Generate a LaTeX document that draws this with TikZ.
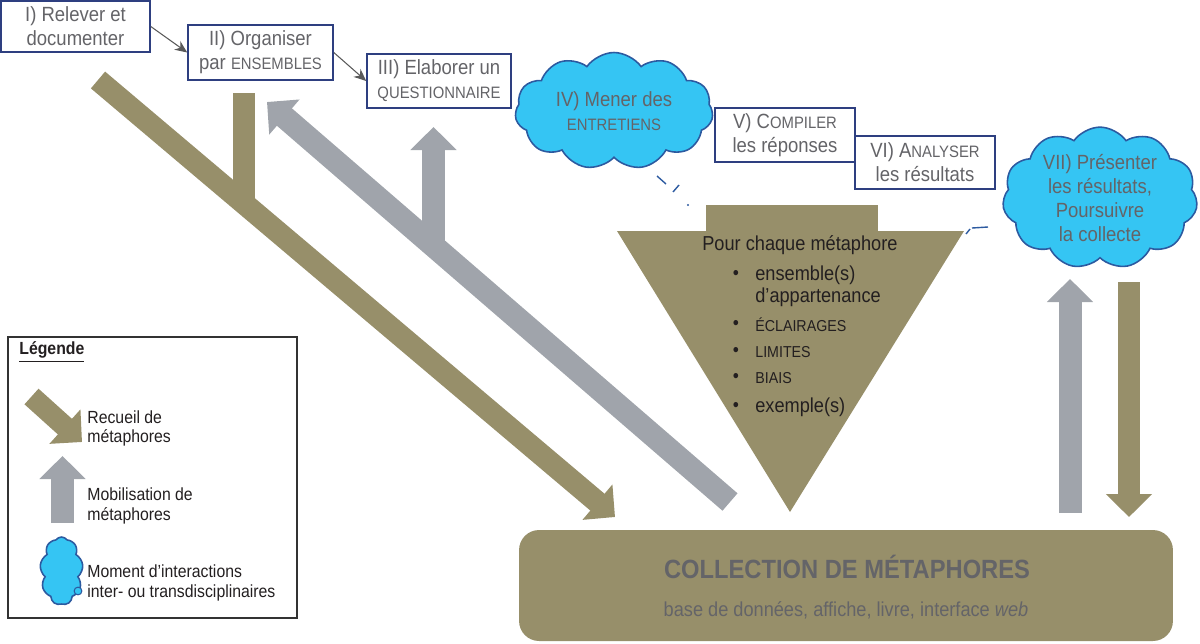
\documentclass[tikz,border=0pt]{standalone}
\usepackage{fontspec}
\setmainfont[FakeStretch=0.9]{Liberation Sans}
\usetikzlibrary{arrows.meta,shapes.symbols}
\definecolor{metaolive}{RGB}{151,143,106}
\definecolor{metagray}{RGB}{160,164,171}
\definecolor{cloudblue}{RGB}{53,197,243}
\definecolor{cloudedge}{RGB}{44,90,160}
\definecolor{boxedge}{RGB}{46,63,128}
\definecolor{labelgray}{RGB}{100,100,104}
\definecolor{inkdark}{RGB}{35,31,32}
\newcommand{\petit}[1]{{\fontsize{9.4}{11}\selectfont #1}}

\begin{document}
\begin{tikzpicture}[x=0.02cm,y=-0.02cm,
		stepbox/.style={draw=boxedge,line width=0.9pt,fill=white,align=center,text=labelgray,inner sep=0pt,font=\fontsize{11.7}{13.6}\selectfont},
		momentcloud/.style={cloud,cloud puffs=11,cloud puff arc=110,cloud ignores aspect,draw=cloudedge,line width=0.9pt,fill=cloudblue,align=center,text=labelgray,inner sep=0pt,font=\fontsize{11.7}{13.6}\selectfont},
		flow/.style={draw=black!65,line width=0.6pt,-{Stealth[length=7pt,width=6pt]}},
		recueil/.style={draw=metaolive,line width=0.44cm,-{Triangle[length=0.46cm,width=0.9cm]}},
		mobilisation/.style={draw=metagray,line width=0.46cm,-{Triangle[length=0.46cm,width=0.9cm]}},
		funneltext/.style={anchor=west,text=inkdark,inner sep=0pt,font=\fontsize{11.5}{13.5}\selectfont},
		funnelcap/.style={anchor=west,text=inkdark,inner sep=0pt,font=\fontsize{9}{11}\selectfont},
		legendtext/.style={anchor=west,align=left,text=inkdark,inner sep=0pt,font=\fontsize{10}{11.3}\selectfont}
	]
	\useasboundingbox (0,0) rectangle (1200,643);

	% big arrows
	\coordinate (rtail) at (98,80);
	\coordinate (rtip) at (615,517);
	\coordinate (rbranch) at (244,93);
	\coordinate (rjoin) at (244,204);
	\coordinate (mtail) at (730,502);
	\coordinate (mtip) at (267,102);
	\coordinate (mjoin) at (433.5,246);
	\coordinate (mbranch) at (433.5,127);
	\coordinate (vup0) at (1070,513);
	\coordinate (vup1) at (1070,279);
	\coordinate (vdown0) at (1129,282);
	\coordinate (vdown1) at (1129,517);
	\draw[recueil] (rtail) -- (rtip);
	\draw[recueil,-] (rbranch) -- (rjoin);
	\draw[mobilisation] (mtail) -- (mtip);
	\draw[mobilisation] (mjoin) -- (mbranch);
	\draw[mobilisation] (vup0) -- (vup1);
	\draw[recueil] (vdown0) -- (vdown1);

	% steps
	\node[stepbox,minimum width=2.98cm,minimum height=1.02cm] (relever) at (75.5,26.5) {I) Relever et\\documenter};
	\node[stepbox,minimum width=2.9cm,minimum height=1.1cm] (organiser) at (260.5,52.5) {II) Organiser\\par \petit{ENSEMBLES}};
	\node[stepbox,minimum width=2.88cm,minimum height=1.08cm] (elaborer) at (439,81) {III) Elaborer un\\\petit{QUESTIONNAIRE}};
	\node[momentcloud,minimum width=3.96cm,minimum height=2.34cm] (entretiens) at (614,111) {IV) Mener des\\\petit{ENTRETIENS}};
	\node[stepbox,minimum width=2.8cm,minimum height=1.08cm] (compiler) at (785,135) {V) C\petit{OMPILER}\\les réponses};
	\node[stepbox,minimum width=2.8cm,minimum height=1.06cm] (analyser) at (925,162.5) {VI) A\petit{NALYSER}\\les résultats};
	\node[momentcloud,minimum width=3.9cm,minimum height=2.56cm] (presenter) at (1100,198) {VII) Présenter\\les résultats,\\Poursuivre\\la collecte};
	\draw[flow] (relever.east) -- (organiser.west);
	\draw[flow] (organiser.east) -- (elaborer.west);

	% bits of callout
	\draw[cloudedge,line width=0.8pt] (657,176) -- (666,184);
	\draw[cloudedge,line width=0.8pt] (673,192) -- (679,185);
	\fill[cloudedge] (688,205) circle (0.6pt);
	\draw[cloudedge,line width=0.8pt] (972,228) -- (988,227);
	\draw[cloudedge,line width=0.8pt] (966,234) -- (970,229);

	% funnel
	\fill[metaolive] (706,205) rectangle (878,232);
	\fill[metaolive] (617,231) -- (964,231) -- (790,512) -- cycle;
	\node[funneltext] (pour) at (702,245) {Pour chaque métaphore};
	\foreach \y in {275,325,352,378,407}
		\node[text=inkdark,inner sep=0pt,font=\fontsize{11}{13}\selectfont] (puce\y) at (736,\y) {•};
	\node[funneltext] (ensemble) at (755,275) {ensemble(s)};
	\node[funneltext] (appartenance) at (755,297) {d’appartenance};
	\node[funnelcap] (eclairages) at (755,325) {ÉCLAIRAGES};
	\node[funnelcap] (limites) at (755,352) {LIMITES};
	\node[funnelcap] (biais) at (755,378) {BIAIS};
	\node[funneltext] (exemples) at (755,407) {exemple(s)};

	% collection
	\node[fill=metaolive,rounded corners=0.4cm,minimum width=13.08cm,minimum height=2.22cm] (collection) at (846,585.5) {};
	\node[text=labelgray,font=\bfseries\fontsize{15}{18}\selectfont] (coltitre) at (847,567) {COLLECTION DE MÉTAPHORES};
	\node[text=labelgray,font=\fontsize{11.5}{14}\selectfont] (colsupports) at (846,610) {base de données, affiche, livre, interface \textit{web}};

	% legende
	\node[draw=black!80,line width=0.7pt,minimum width=5.78cm,minimum height=5.62cm] (legende) at (152.5,477.5) {};
	\node[anchor=west,inner sep=0pt,text=inkdark,font=\bfseries\fontsize{10}{12}\selectfont] (legtitre) at (19,352) {\underline{Légende}};
	\coordinate (lr0) at (31.5,396.5);
	\coordinate (lr1) at (82,442);
	\coordinate (lm0) at (62.5,523);
	\coordinate (lm1) at (62.5,456);
	\draw[recueil,line width=0.42cm] (lr0) -- (lr1);
	\draw[mobilisation] (lm0) -- (lm1);
	\node[momentcloud,cloud puffs=9,minimum width=0.86cm,minimum height=1.36cm] (legcloud) at (61.5,571) {};
	\draw[cloudedge,fill=cloudblue,line width=0.6pt] (78,591) circle (2.2pt);
	\node[legendtext] (recueiltxt) at (87,428.5) {Recueil de\\métaphores};
	\node[legendtext] (mobiltxt) at (87,506) {Mobilisation de\\métaphores};
	\node[legendtext] (momenttxt) at (87,583) {Moment d’interactions\\inter- ou transdisciplinaires};
\end{tikzpicture}
\end{document}
